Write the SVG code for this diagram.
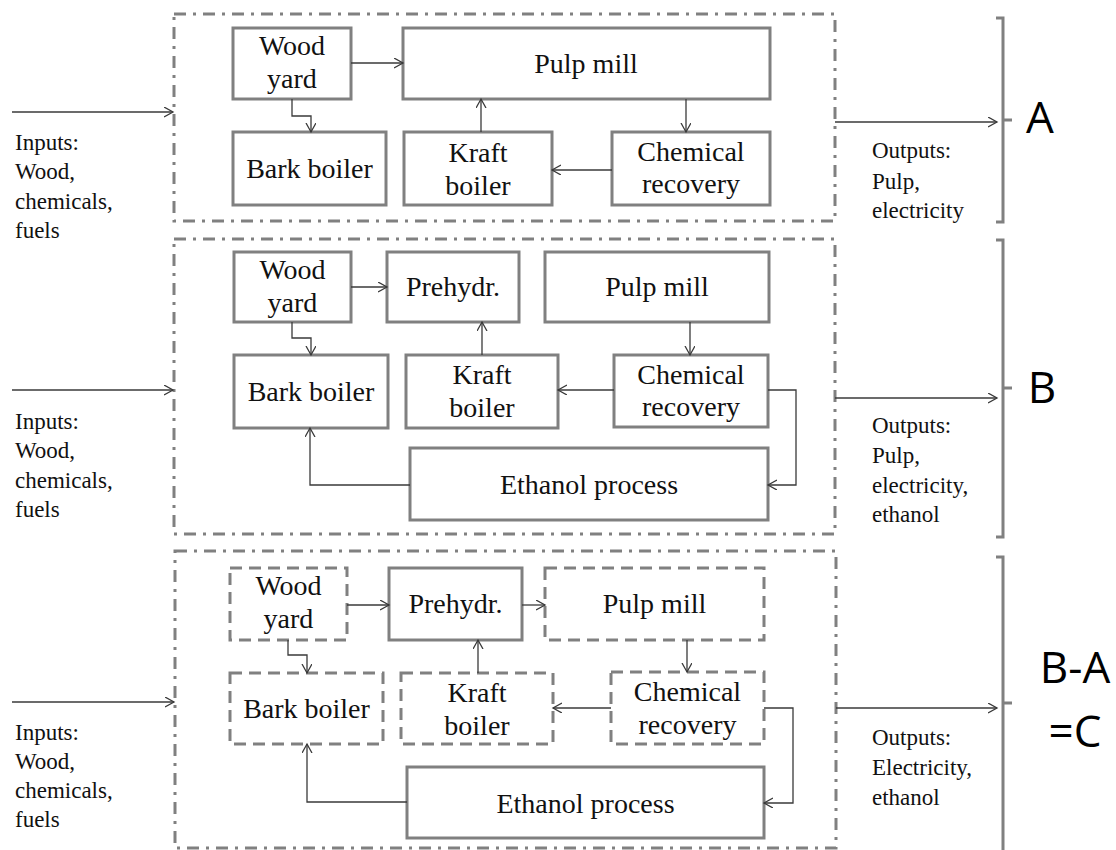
<svg xmlns="http://www.w3.org/2000/svg" width="1116" height="850" viewBox="0 0 1116 850">
  <defs>
    <marker id="arr" markerUnits="userSpaceOnUse" markerWidth="12" markerHeight="12" refX="9" refY="5" orient="auto">
      <path d="M0,0 L9,5 L0,10" fill="none" stroke="#3a3a3a" stroke-width="1.3"/>
    </marker>
    <style>
      .panel { fill: none; stroke: #808080; stroke-width: 3; stroke-dasharray: 12 7 3 7; }
      .box { fill: #fff; stroke: #808080; stroke-width: 3; }
      .dbox { fill: #fff; stroke: #808080; stroke-width: 3; stroke-dasharray: 12 7; }
      .con { fill: none; stroke: #3a3a3a; stroke-width: 1.3; }
      .brk { fill: none; stroke: #808080; stroke-width: 3; }
    </style>
  </defs>
  <rect width="1116" height="850" fill="#fff"/>

  <!-- system boundaries -->
  <g id="panels">
    <rect class="panel" x="174" y="14" width="661" height="207"/>
    <rect class="panel" x="174" y="239" width="661" height="295"/>
    <rect class="panel" x="175" y="551" width="661" height="297"/>
  </g>

  <!-- case A -->
  <g id="woodA"><rect class="box" x="233" y="28" width="118" height="71"/><text font-family="Liberation Serif" font-size="28" fill="#111" text-anchor="middle" x="292" y="55">Wood</text><text font-family="Liberation Serif" font-size="28" fill="#111" text-anchor="middle" x="292" y="88">yard</text></g>
  <g id="pulpA"><rect class="box" x="403" y="28" width="367" height="71"/><text font-family="Liberation Serif" font-size="28" fill="#111" text-anchor="middle" x="586" y="73">Pulp mill</text></g>
  <g id="barkA"><rect class="box" x="233" y="132" width="153" height="73"/><text font-family="Liberation Serif" font-size="28" fill="#111" text-anchor="middle" x="309.5" y="178">Bark boiler</text></g>
  <g id="kraftA"><rect class="box" x="404" y="132" width="148" height="73"/><text font-family="Liberation Serif" font-size="28" fill="#111" text-anchor="middle" x="478" y="162">Kraft</text><text font-family="Liberation Serif" font-size="28" fill="#111" text-anchor="middle" x="478" y="195">boiler</text></g>
  <g id="chemA"><rect class="box" x="612" y="132" width="158" height="73"/><text font-family="Liberation Serif" font-size="28" fill="#111" text-anchor="middle" x="691" y="161">Chemical</text><text font-family="Liberation Serif" font-size="28" fill="#111" text-anchor="middle" x="691" y="193">recovery</text></g>

  <!-- case B -->
  <g id="woodB"><rect class="box" x="234" y="252" width="117" height="70"/><text font-family="Liberation Serif" font-size="28" fill="#111" text-anchor="middle" x="292.5" y="279">Wood</text><text font-family="Liberation Serif" font-size="28" fill="#111" text-anchor="middle" x="292.5" y="312">yard</text></g>
  <g id="prehB"><rect class="box" x="387" y="252" width="132" height="70"/><text font-family="Liberation Serif" font-size="28" fill="#111" text-anchor="middle" x="453" y="296">Prehydr.</text></g>
  <g id="pulpB"><rect class="box" x="545" y="252" width="224" height="70"/><text font-family="Liberation Serif" font-size="28" fill="#111" text-anchor="middle" x="657" y="296">Pulp mill</text></g>
  <g id="barkB"><rect class="box" x="234" y="355" width="154" height="73"/><text font-family="Liberation Serif" font-size="28" fill="#111" text-anchor="middle" x="311" y="401">Bark boiler</text></g>
  <g id="kraftB"><rect class="box" x="406" y="355" width="152" height="73"/><text font-family="Liberation Serif" font-size="28" fill="#111" text-anchor="middle" x="482" y="384">Kraft</text><text font-family="Liberation Serif" font-size="28" fill="#111" text-anchor="middle" x="482" y="417">boiler</text></g>
  <g id="chemB"><rect class="box" x="614" y="355" width="154" height="72"/><text font-family="Liberation Serif" font-size="28" fill="#111" text-anchor="middle" x="691" y="384">Chemical</text><text font-family="Liberation Serif" font-size="28" fill="#111" text-anchor="middle" x="691" y="416">recovery</text></g>
  <g id="ethB"><rect class="box" x="410" y="448" width="358" height="72"/><text font-family="Liberation Serif" font-size="28" fill="#111" text-anchor="middle" x="589" y="494">Ethanol process</text></g>

  <!-- case C (difference) -->
  <g id="woodC"><rect class="dbox" x="230" y="568" width="117" height="72"/><text font-family="Liberation Serif" font-size="28" fill="#111" text-anchor="middle" x="288.5" y="595">Wood</text><text font-family="Liberation Serif" font-size="28" fill="#111" text-anchor="middle" x="288.5" y="628">yard</text></g>
  <g id="prehC"><rect class="box" x="389" y="568" width="133" height="72"/><text font-family="Liberation Serif" font-size="28" fill="#111" text-anchor="middle" x="455.5" y="613">Prehydr.</text></g>
  <g id="pulpC"><rect class="dbox" x="545" y="568" width="219" height="72"/><text font-family="Liberation Serif" font-size="28" fill="#111" text-anchor="middle" x="654.5" y="613">Pulp mill</text></g>
  <g id="barkC"><rect class="dbox" x="230" y="673" width="153" height="71"/><text font-family="Liberation Serif" font-size="28" fill="#111" text-anchor="middle" x="306.5" y="718">Bark boiler</text></g>
  <g id="kraftC"><rect class="dbox" x="401" y="673" width="152" height="71"/><text font-family="Liberation Serif" font-size="28" fill="#111" text-anchor="middle" x="477" y="702">Kraft</text><text font-family="Liberation Serif" font-size="28" fill="#111" text-anchor="middle" x="477" y="735">boiler</text></g>
  <g id="chemC"><rect class="dbox" x="611" y="672" width="153" height="72"/><text font-family="Liberation Serif" font-size="28" fill="#111" text-anchor="middle" x="687.5" y="701">Chemical</text><text font-family="Liberation Serif" font-size="28" fill="#111" text-anchor="middle" x="687.5" y="734">recovery</text></g>
  <g id="ethC"><rect class="box" x="407" y="767" width="357" height="71"/><text font-family="Liberation Serif" font-size="28" fill="#111" text-anchor="middle" x="585.5" y="813">Ethanol process</text></g>

  <!-- flows -->
  <g id="connectors">
    <path class="con" marker-end="url(#arr)" d="M351,63 H403"/>
    <path class="con" marker-end="url(#arr)" d="M292,99 V116 H311 V132"/>
    <path class="con" marker-end="url(#arr)" d="M481,132 V99"/>
    <path class="con" marker-end="url(#arr)" d="M686,99 V132"/>
    <path class="con" marker-end="url(#arr)" d="M612,170 H552"/>

    <path class="con" marker-end="url(#arr)" d="M351,287 H387"/>
    <path class="con" marker-end="url(#arr)" d="M292,322 V338 H311 V355"/>
    <path class="con" marker-end="url(#arr)" d="M482,355 V322"/>
    <path class="con" marker-end="url(#arr)" d="M690,322 V355"/>
    <path class="con" marker-end="url(#arr)" d="M614,390 H558"/>
    <path class="con" marker-end="url(#arr)" d="M768,390 H796 V485 H768"/>
    <path class="con" marker-end="url(#arr)" d="M410,485 H310 V428"/>

    <path class="con" marker-end="url(#arr)" d="M347,605 H389"/>
    <path class="con" marker-end="url(#arr)" d="M522,605 H545"/>
    <path class="con" marker-end="url(#arr)" d="M288,640 V655 H307 V673"/>
    <path class="con" marker-end="url(#arr)" d="M478,673 V640"/>
    <path class="con" marker-end="url(#arr)" d="M687,640 V672"/>
    <path class="con" marker-end="url(#arr)" d="M611,708 H553"/>
    <path class="con" marker-end="url(#arr)" d="M764,708 H793 V803 H764"/>
    <path class="con" marker-end="url(#arr)" d="M407,802 H307 V744"/>

    <path class="con" marker-end="url(#arr)" d="M12,112 H173"/>
    <path class="con" marker-end="url(#arr)" d="M12,390 H173"/>
    <path class="con" marker-end="url(#arr)" d="M12,702 H174"/>
    <path class="con" marker-end="url(#arr)" d="M835,122 H997"/>
    <path class="con" marker-end="url(#arr)" d="M835,398 H997"/>
    <path class="con" marker-end="url(#arr)" d="M836,708 H997"/>
  </g>

  <!-- inputs / outputs text -->
  <g id="inputs">
    <text font-family="Liberation Serif" font-size="23" fill="#111" x="15" y="150">Inputs:</text><text font-family="Liberation Serif" font-size="23" fill="#111" x="15" y="179">Wood,</text><text font-family="Liberation Serif" font-size="23" fill="#111" x="15" y="209">chemicals,</text><text font-family="Liberation Serif" font-size="23" fill="#111" x="15" y="238">fuels</text>
    <text font-family="Liberation Serif" font-size="23" fill="#111" x="15" y="429">Inputs:</text><text font-family="Liberation Serif" font-size="23" fill="#111" x="15" y="458">Wood,</text><text font-family="Liberation Serif" font-size="23" fill="#111" x="15" y="488">chemicals,</text><text font-family="Liberation Serif" font-size="23" fill="#111" x="15" y="517">fuels</text>
    <text font-family="Liberation Serif" font-size="23" fill="#111" x="15" y="740">Inputs:</text><text font-family="Liberation Serif" font-size="23" fill="#111" x="15" y="769">Wood,</text><text font-family="Liberation Serif" font-size="23" fill="#111" x="15" y="798">chemicals,</text><text font-family="Liberation Serif" font-size="23" fill="#111" x="15" y="827">fuels</text>
  </g>
  <g id="outputs">
    <text font-family="Liberation Serif" font-size="23" fill="#111" x="872" y="158">Outputs:</text><text font-family="Liberation Serif" font-size="23" fill="#111" x="872" y="189">Pulp,</text><text font-family="Liberation Serif" font-size="23" fill="#111" x="872" y="218">electricity</text>
    <text font-family="Liberation Serif" font-size="23" fill="#111" x="872" y="433">Outputs:</text><text font-family="Liberation Serif" font-size="23" fill="#111" x="872" y="463">Pulp,</text><text font-family="Liberation Serif" font-size="23" fill="#111" x="872" y="493">electricity,</text><text font-family="Liberation Serif" font-size="23" fill="#111" x="872" y="522">ethanol</text>
    <text font-family="Liberation Serif" font-size="23" fill="#111" x="872" y="745">Outputs:</text><text font-family="Liberation Serif" font-size="23" fill="#111" x="872" y="775">Electricity,</text><text font-family="Liberation Serif" font-size="23" fill="#111" x="872" y="805">ethanol</text>
  </g>

  <!-- brackets and case letters -->
  <g id="brackets">
    <path class="brk" d="M996,18 H1003 V222 H996 M1003,120 H1012"/>
    <path class="brk" d="M996,240 H1003 V537 H996 M1003,388 H1012"/>
    <path class="brk" d="M996,557 H1003 V852 M1003,703 H1012"/>
    <text font-family="Open Sans" font-size="44" fill="#000" text-anchor="middle" x="1040" y="133">A</text>
    <text font-family="Open Sans" font-size="44" fill="#000" text-anchor="middle" x="1042" y="403">B</text>
    <text font-family="Open Sans" font-size="44" fill="#000" text-anchor="middle" x="1075" y="683">B-A</text>
    <text font-family="Open Sans" font-size="44" fill="#000" text-anchor="middle" x="1075" y="747">=C</text>
  </g>
</svg>
